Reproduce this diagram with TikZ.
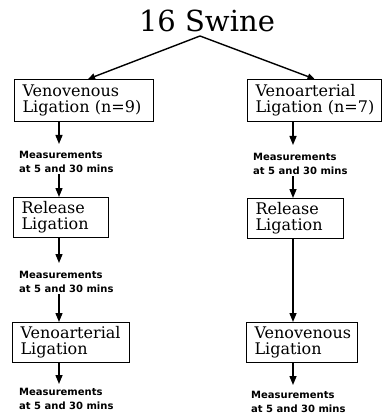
\documentclass[tikz,border=0pt]{standalone}
\usepackage{fontspec}
\setmainfont{DejaVu Serif}
\newfontfamily\measfont{DejaVu Sans}
\usetikzlibrary{arrows.meta}
\begin{document}
\begin{tikzpicture}[x=1pt,y=-1pt,
  box/.style={draw, line width=1.1pt, anchor=north west, inner xsep=8pt, inner ysep=0pt,
    align=left, font=\fontsize{16}{16}\selectfont},
  meas/.style={anchor=north west, inner sep=0pt, align=left,
    font=\measfont\bfseries\fontsize{10}{14.5}\selectfont},
  arr/.style={line width=1.4pt, -{Triangle[length=9pt,width=7pt]}},
  darr/.style={line width=1.4pt, -{Triangle[length=7pt,width=6pt]}}]
\useasboundingbox (0,0) rectangle (382,414);
\node[anchor=base, inner sep=0pt, font=\fontsize{29}{29}\selectfont] (swine) at (207,32) {16 Swine};
\coordinate (apex) at (200,36);
\coordinate (cL) at (59,0);
\coordinate (cR) at (293,0);
% boxes
\node[box, text width=123pt, minimum height=42pt] (A) at (14,79) {Venovenous\\Ligation~(n=9)};
\node[box, text width=118pt, minimum height=42pt] (B) at (247,79) {Venoarterial\\Ligation~(n=7)};
\node[box, text width=79pt, minimum height=40pt] (C) at (13,197) {Release\\Ligation};
\node[box, text width=80pt, minimum height=40pt] (D) at (247,198) {Release\\Ligation};
\node[box, text width=101pt, minimum height=40pt] (E) at (12,322) {Venoarterial\\Ligation};
\node[box, text width=95pt, minimum height=40pt] (F) at (246,322) {Venovenous\\Ligation};
% measurements
\node[meas] (M1) at (19,151) {Measurements\\at 5 and 30 mins};
\node[meas] (N1) at (253,153) {Measurements\\at 5 and 30 mins};
\node[meas] (M2) at (19,271) {Measurements\\at 5 and 30 mins};
\node[meas] (M3) at (19,388) {Measurements\\at 5 and 30 mins};
\node[meas] (N3) at (251,391) {Measurements\\at 5 and 30 mins};
% connectors
\draw[darr] (apex) -- ([xshift=4pt]A.north);
\draw[darr] (apex) -- (B.north);
\draw[arr, shorten >=7pt] (A.south -| cL) -- (M1.north -| cL);
\draw[arr, shorten <=1pt] (M1.south -| cL) -- (C.north -| cL);
\draw[arr, shorten >=8pt] (C.south -| cL) -- (M2.north -| cL);
\draw[arr, shorten <=1pt] (M2.south -| cL) -- (E.north -| cL);
\draw[arr, shorten >=4pt] (E.south -| cL) -- (M3.north -| cL);
\draw[arr, shorten >=8pt] (B.south -| cR) -- (N1.north -| cR);
\draw[arr, shorten <=1pt] (N1.south -| cR) -- (D.north -| cR);
\draw[arr] (D.south -| cR) -- (F.north -| cR);
\draw[arr, shorten >=6pt] (F.south -| cR) -- (N3.north -| cR);
\end{tikzpicture}
\end{document}
